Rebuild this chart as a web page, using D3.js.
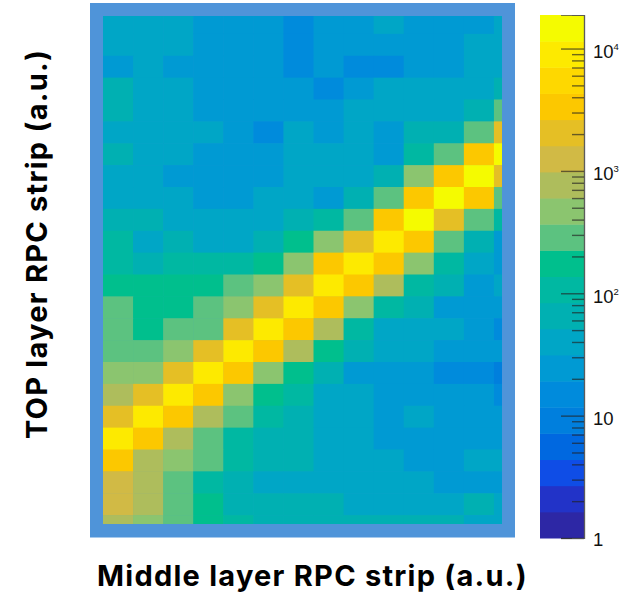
<!DOCTYPE html>
<html>
<head>
<meta charset="utf-8">
<script src="https://cdn.jsdelivr.net/npm/d3@7"></script>
<style>
  html, body { margin: 0; padding: 0; background: #fff; overflow: hidden; }
  .title { font-family: Inter, sans-serif; font-weight: 700; font-size: 29px; letter-spacing: 1.25px; fill: #000; }
  .zlabel { font-family: "Liberation Sans", sans-serif; font-size: 18.5px; fill: #111; }
</style>
</head>
<body>
<div class="chart"></div>
<script>
/* values, estimated from the colour band of each cell */
const xStrips = d3.range(1, 15);
const yStrips = d3.range(24, 0, -1);   // top row first

const counts = [
  [40,40,40,25,25,25,15,25,25,40,25,25,25,40],
  [40,40,40,25,25,25,15,25,25,25,25,25,40,40],
  [25,40,25,25,25,25,15,25,15,15,25,25,40,40],
  [66,40,40,25,25,25,25,15,25,40,40,40,40,66],
  [66,40,40,25,25,25,25,25,40,40,40,40,66,290],
  [40,40,40,40,25,15,40,25,40,25,66,66,290,2000],
  [66,40,40,25,25,25,40,40,40,25,110,290,3400,14000],
  [40,40,25,25,25,25,40,40,40,66,470,3400,14000,2000],
  [40,40,40,25,25,40,40,25,66,290,3400,14000,3400,290],
  [66,66,40,40,40,40,66,110,290,3400,14000,2000,290,110],
  [110,40,66,40,40,66,180,470,2000,9000,3400,290,66,25],
  [110,66,110,110,110,180,470,3400,9000,3400,470,110,40,25],
  [180,180,180,180,290,470,2000,9000,3400,770,110,66,25,40],
  [290,180,180,290,470,2000,9000,3400,470,110,66,25,25,25],
  [290,180,290,290,2000,9000,3400,770,110,40,40,40,25,15],
  [290,290,470,2000,9000,3400,770,180,66,40,40,25,25,25],
  [470,470,2000,9000,3400,470,180,66,25,25,25,15,15,9],
  [770,2000,9000,3400,470,180,110,40,40,25,25,25,25,15],
  [2000,9000,3400,770,290,110,66,40,40,25,40,25,25,25],
  [9000,3400,770,290,110,66,66,40,40,25,25,25,25,25],
  [3400,770,470,290,110,66,66,40,40,40,25,25,40,40],
  [1300,770,290,110,66,40,40,40,40,40,40,25,25,25],
  [1300,770,290,180,66,66,66,66,40,40,40,40,66,40],
  [770,470,290,180,110,66,66,66,66,66,66,66,40,40]
];

const bandColors = [
  "#2d27a5","#2233c8","#0f4de6","#0068e0","#007fdd",
  "#008bdc","#009ad3","#00a6c6","#00b0b2","#00b8a2",
  "#00bf8d","#5cc280","#8bc56f","#aebd5c","#d1ba45",
  "#e5bf25","#fcc800","#fed800","#fdea00","#f5fb00"
];

const zMax = 18800;
const zMajor = [1, 10, 100, 1000, 10000];
const zMinor = [2,3,4,5,6,7,8,9,20,30,40,50,60,70,80,90,200,300,400,500,600,700,800,900,
  2000,3000,4000,5000,6000,7000,8000,9000];

/* Create Chart Area */
const width = 620, height = 597;

const svg = d3.select(".chart").append("svg")
  .attr("width", width)
  .attr("height", height)
  .style("display", "block");

const xScale = d3.scaleBand().domain(xStrips).range([103, 524]);
const yScale = d3.scaleBand().domain(yStrips).range([12, 537]);
const colorScale = d3.scaleQuantize().domain([0, Math.log10(zMax)]).range(bandColors);
const zScale = d3.scaleLog().domain([1, zMax]).range([538, 15]);

/* blue frame behind the map */
svg.append("rect")
  .attr("x", 90).attr("y", 3)
  .attr("width", 425).attr("height", 534.5)
  .attr("fill", "#4f94d9");

svg.append("clipPath").attr("id", "plot-clip")
  .append("rect")
  .attr("x", 103).attr("y", 16)
  .attr("width", 399).attr("height", 508);

const cells = yStrips.flatMap((row, i) => xStrips.map((col, j) => ({row, col, value: counts[i][j]})));

svg.append("g")
  .attr("clip-path", "url(#plot-clip)")
  .selectAll("rect")
  .data(cells)
  .enter()
  .append("rect")
  .attr("x", d => xScale(d.col))
  .attr("y", d => yScale(d.row))
  .attr("width", xScale.bandwidth() + 0.5)
  .attr("height", yScale.bandwidth() + 0.5)
  .attr("fill", d => colorScale(Math.log10(d.value)));

/* Colour bar */
const step = Math.log10(zMax) / bandColors.length;

svg.append("g")
  .selectAll("rect")
  .data(bandColors)
  .enter()
  .append("rect")
  .attr("x", 540)
  .attr("width", 44)
  .attr("y", (d, i) => zScale(Math.pow(10, (i + 1) * step)))
  .attr("height", (d, i) => zScale(Math.pow(10, i * step)) - zScale(Math.pow(10, (i + 1) * step)) + 0.5)
  .attr("fill", d => d);

const majorAxis = d3.axisLeft(zScale).tickValues(zMajor).tickSize(23).tickFormat("");
const minorAxis = d3.axisLeft(zScale).tickValues(zMinor).tickSize(12).tickFormat("");

[majorAxis, minorAxis].forEach(axis => {
  const g = svg.append("g")
    .attr("transform", "translate(584,0)")
    .call(axis);
  g.select(".domain").attr("stroke", "#555").attr("stroke-width", 1.2).attr("opacity", 0.8);
  g.selectAll(".tick line").attr("stroke", "#222").attr("stroke-width", 1.4).attr("opacity", 0.65);
});

/* tick labels, exponent kept small so it still fits in the window */
const zLabels = svg.append("g")
  .selectAll("text")
  .data(zMajor)
  .enter()
  .append("text")
  .attr("class", "zlabel")
  .attr("x", 593)
  .attr("y", d => zScale(d) + (d === 1 ? 8 : 9.5));

zLabels.append("tspan").text(d => d === 1 ? "1" : "10");
zLabels.filter(d => d > 10).append("tspan")
  .attr("dy", -8)
  .style("font-size", "9.5px")
  .text(d => Math.log10(d));

/* Axis titles */
svg.append("text")
  .attr("class", "title")
  .attr("x", 312.5)
  .attr("y", 586)
  .attr("text-anchor", "middle")
  .text("Middle layer RPC strip (a.u.)");

svg.append("text")
  .attr("class", "title")
  .attr("transform", "translate(47,244) rotate(-90)")
  .attr("text-anchor", "middle")
  .text("TOP layer RPC strip (a.u.)");
</script>
</body>
</html>
